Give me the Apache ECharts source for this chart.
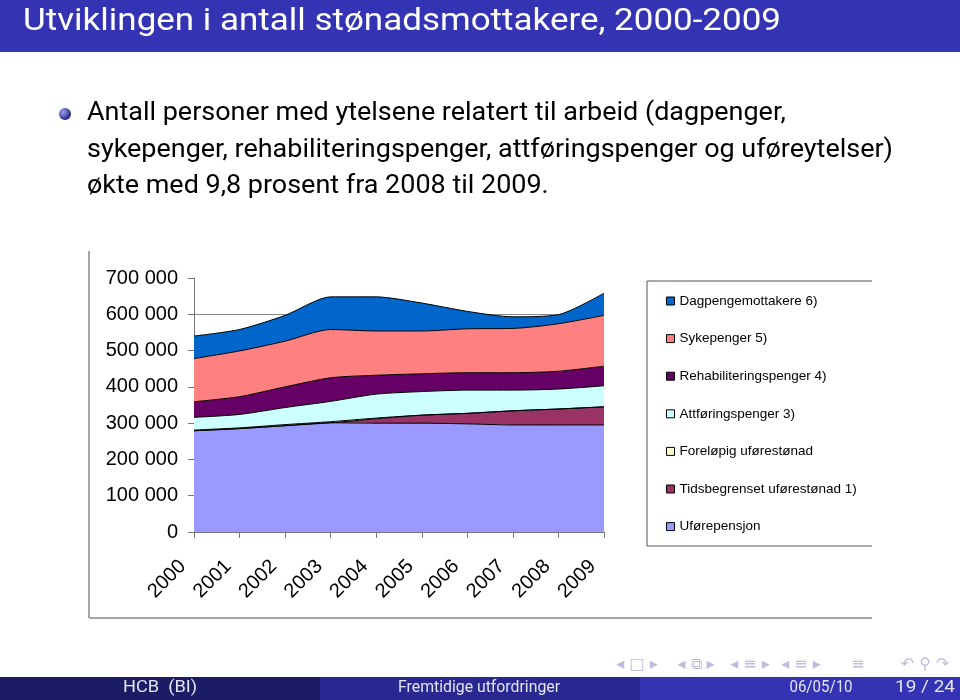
<!DOCTYPE html>
<html>
<head>
<meta charset="utf-8">
<script src="https://cdn.jsdelivr.net/npm/echarts@6/dist/echarts.min.js"></script>
<style>
  html, body { margin: 0; padding: 0; background: #fff; }
  #main { width: 960px; height: 700px; }
</style>
</head>
<body>
<div id="main"></div>
<script>
// årstall på x-aksen
var years = ['2000', '2001', '2002', '2003', '2004', '2005', '2006', '2007', '2008', '2009'];

// antall mottakere per ytelse (lest av figuren)
var uforepensjon  = [279000, 285000, 293000, 301000, 300000, 300000, 298000, 295000, 295000, 295000];
var tidsbegrenset = [0, 0, 0, 0, 12000, 22000, 29000, 39000, 44000, 50000];
var forelopig     = [2000, 2000, 3000, 3000, 2000, 0, 0, 0, 0, 0];
var attforing     = [35000, 37000, 47000, 56000, 66000, 65000, 64000, 57000, 55000, 58000];
var rehab         = [43000, 49000, 57000, 65000, 52000, 49000, 48000, 48000, 49000, 54000];
var sykepenger    = [119000, 126000, 126000, 133000, 122000, 118000, 121000, 122000, 131000, 140000];
var dagpenger     = [62000, 59000, 71000, 90000, 94000, 77000, 48000, 32000, 25000, 61000];

var yTicks = [0, 100000, 200000, 300000, 400000, 500000, 600000, 700000];

var slideTitle = 'Utviklingen i antall stønadsmottakere, 2000-2009';
var bulletLines = [
  'Antall personer med ytelsene relatert til arbeid (dagpenger,',
  'sykepenger, rehabiliteringspenger, attføringspenger og uføreytelser)',
  'økte med 9,8 prosent fra 2008 til 2009.'
];

var slideFont = 'Roboto, "DejaVu Sans", sans-serif';
var chartFont = '"Liberation Sans", Arial, sans-serif';

var ctx = document.createElement('canvas').getContext('2d');
function textWidth(text, size, family) {
  ctx.font = size + 'px ' + family;
  return ctx.measureText(text).width;
}

// tekst med vannrett skalering så den får samme bredde som i forelegget
function slideText(text, x, baseline, size, width, fill, align, sx) {
  var scale = sx || width / textWidth(text, size, slideFont);
  return {
    type: 'text', x: x, y: baseline - 0.35 * size, scaleX: scale,
    style: { text: text, fill: fill, font: size + 'px ' + slideFont, align: align || 'left', verticalAlign: 'middle' }
  };
}

var chart = echarts.init(document.getElementById('main'));

function area(name, color, data) {
  return {
    name: name,
    type: 'line',
    stack: 'sum',
    smooth: 0.25,
    showSymbol: false,
    data: data,
    itemStyle: { color: color },
    lineStyle: { color: '#000', width: 1 },
    areaStyle: { color: color, opacity: 1 }
  };
}

var legendNames = [
  'Dagpengemottakere 6)',
  'Sykepenger 5)',
  'Rehabiliteringspenger 4)',
  'Attføringspenger 3)',
  'Foreløpig uførestønad',
  'Tidsbegrenset uførestønad 1)',
  'Uførepensjon'
];

var bulletScale = 806 / textWidth(bulletLines[1], 26, slideFont);
var footColor = '#e4e4f2';
var navStyle = { fill: '#bcbcdc', font: '16px "DejaVu Sans"', align: 'center', verticalAlign: 'middle' };

var graphics = [
  // toppfelt
  { type: 'rect', shape: { x: 0, y: 0, width: 960, height: 52 }, style: { fill: '#3333b3' } },
  slideText(slideTitle, 23, 33, 32, 758, '#fff'),
  // kule
  { type: 'circle', shape: { cx: 65, cy: 114, r: 6 },
    style: { fill: new echarts.graphic.RadialGradient(0.35, 0.35, 0.7, [
      { offset: 0, color: '#a0a0f0' }, { offset: 1, color: '#1a1a80' }]) } },
  // ramme rundt figuren
  { type: 'line', shape: { x1: 89, y1: 251, x2: 89, y2: 618 }, style: { stroke: '#888', lineWidth: 1.5 } },
  { type: 'line', shape: { x1: 89, y1: 618, x2: 872, y2: 618 }, style: { stroke: '#888', lineWidth: 1.5 } },
  // ramme rundt tegnforklaring
  { type: 'line', shape: { x1: 647, y1: 281, x2: 872, y2: 281 }, style: { stroke: '#555', lineWidth: 1 } },
  { type: 'line', shape: { x1: 647, y1: 281, x2: 647, y2: 546 }, style: { stroke: '#555', lineWidth: 1 } },
  { type: 'line', shape: { x1: 647, y1: 546, x2: 872, y2: 546 }, style: { stroke: '#555', lineWidth: 1 } },
  // bunnfelt
  { type: 'rect', shape: { x: 0, y: 677, width: 320, height: 23 }, style: { fill: '#1c1c66' } },
  { type: 'rect', shape: { x: 320, y: 677, width: 320, height: 23 }, style: { fill: '#282890' } },
  { type: 'rect', shape: { x: 640, y: 677, width: 320, height: 23 }, style: { fill: '#3333b3' } },
  slideText('HCB  (BI)', 160, 694, 16, 74, footColor, 'center'),
  slideText('Fremtidige utfordringer', 479, 694, 16, 162, footColor, 'center'),
  slideText('06/05/10', 821, 694, 16, 63, footColor, 'center'),
  slideText('19 / 24', 925, 694, 16, 60, footColor, 'center'),
  // navigasjonssymboler
  { type: 'text', x: 637, y: 665, style: Object.assign({ text: '◂ □ ▸' }, navStyle) },
  { type: 'text', x: 696, y: 665, style: Object.assign({ text: '◂ ⧉ ▸' }, navStyle) },
  { type: 'text', x: 750, y: 665, style: Object.assign({ text: '◂ ≡ ▸' }, navStyle) },
  { type: 'text', x: 801, y: 665, style: Object.assign({ text: '◂ ≡ ▸' }, navStyle) },
  { type: 'text', x: 858, y: 665, style: Object.assign({ text: '≡' }, navStyle) },
  { type: 'text', x: 925, y: 665, style: Object.assign({ text: '↶ ⚲ ↷' }, navStyle) }
];

var baselines = [123, 159.5, 195.5];
bulletLines.forEach(function (t, i) {
  graphics.push(slideText(t, 87, baselines[i], 26, 0, '#000', 'left', bulletScale));
});

chart.setOption({
  backgroundColor: '#fff',
  animation: false,
  grid: { left: 194, right: 356, top: 278, bottom: 168 },
  legend: {
    data: legendNames,
    orient: 'vertical',
    left: 661,
    top: 288,
    icon: 'rect',
    itemWidth: 8,
    itemHeight: 8,
    itemGap: 21.6,
    itemStyle: { borderColor: '#000', borderWidth: 1 },
    textStyle: { fontFamily: chartFont, fontSize: 13.5, color: '#000', lineHeight: 16 }
  },
  xAxis: {
    type: 'category',
    data: years,
    boundaryGap: false,
    axisLine: { lineStyle: { color: '#777', width: 1 } },
    axisTick: { show: true, length: 6, lineStyle: { color: '#777' } },
    axisLabel: { rotate: 45, margin: 20, padding: [0, 16, 0, 0], fontFamily: chartFont, fontSize: 20, color: '#000' }
  },
  yAxis: {
    type: 'value',
    min: 0,
    max: 700000,
    interval: 100000,
    axisLine: { show: true, lineStyle: { color: '#777', width: 1 } },
    axisTick: { show: true, length: 6, lineStyle: { color: '#777' } },
    splitLine: { show: true, showMinLine: false, showMaxLine: false, lineStyle: { color: '#888', width: 1 } },
    axisLabel: {
      margin: 16, fontFamily: chartFont, fontSize: 20, color: '#000',
      formatter: function (v) { return yTicks.indexOf(v) < 0 ? '' : (v === 0 ? '0' : (v / 1000) + ' 000'); }
    }
  },
  series: [
    area('Uførepensjon', '#9999ff', uforepensjon),
    area('Tidsbegrenset uførestønad 1)', '#993366', tidsbegrenset),
    area('Foreløpig uførestønad', '#ffffcc', forelopig),
    area('Attføringspenger 3)', '#ccffff', attforing),
    area('Rehabiliteringspenger 4)', '#660066', rehab),
    area('Sykepenger 5)', '#ff8080', sykepenger),
    area('Dagpengemottakere 6)', '#0066cc', dagpenger)
  ],
  graphic: graphics
});
</script>
</body>
</html>
